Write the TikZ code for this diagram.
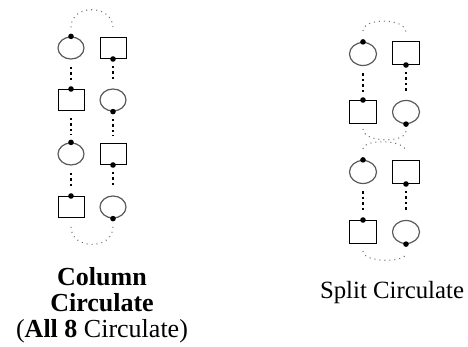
\documentclass[tikz,border=0pt]{standalone}
\usepackage{fontspec}
\setmainfont{Liberation Serif}
\usetikzlibrary{shapes.geometric}
\begin{document}
\begin{tikzpicture}[x=1pt,y=-1pt,
  ring/.style={draw=black!65,line width=1.2pt,ellipse,minimum width=26pt,minimum height=22pt,inner sep=0pt},
  box/.style={draw,line width=1pt,rectangle,minimum width=26pt,minimum height=21pt,inner sep=0pt},
  link/.style={line width=1.3pt,dash pattern=on 2.5pt off 3pt,shorten <=7pt,shorten >=7pt},
  loop/.style={draw=black!55,line width=1.1pt,dash pattern=on 1pt off 4pt},
  label/.style={font=\fontsize{26}{26}\selectfont,align=center,inner sep=0pt}]
\useasboundingbox (0,0) rectangle (468,347);

\coordinate (a1) at (71,48);
\coordinate (a2) at (71,100);
\coordinate (a3) at (71,154);
\coordinate (a4) at (71,207);
\coordinate (b1) at (113,48);
\coordinate (b2) at (113,100);
\coordinate (b3) at (113,154);
\coordinate (b4) at (113,207);

\coordinate (p1) at (363,54);
\coordinate (p2) at (363,112);
\coordinate (p3) at (363,172);
\coordinate (p4) at (363,232);
\coordinate (q1) at (406,53);
\coordinate (q2) at (406,112);
\coordinate (q3) at (406,172);
\coordinate (q4) at (406,232);

% column circulate
\node[ring] (a1) at (a1){};
\node[box] (a2) at (a2){};
\node[ring] (a3) at (a3){};
\node[box] (a4) at (a4){};
\node[box] (b1) at (b1){};
\node[ring] (b2) at (b2){};
\node[box] (b3) at (b3){};
\node[ring] (b4) at (b4){};

\draw[link] (a1)--(a2);
\draw[link] (a2)--(a3);
\draw[link] (a3)--(a4);
\draw[link] (b1)--(b2);
\draw[link] (b2)--(b3);
\draw[link] (b3)--(b4);
\draw[loop,shorten <=9pt,shorten >=9pt] (a1.north) .. controls +(0,-33) and +(0,-33) .. (b1.north);
\draw[loop,shorten <=9pt,shorten >=8pt] (a4.south) .. controls +(0,32) and +(0,32) .. (b4.south);

\fill (a1.north) circle (2.8pt);
\fill (a2.north) circle (2.8pt);
\fill (a3.north) circle (2.8pt);
\fill (a4.north) circle (2.8pt);
\fill (b1.south) circle (2.8pt);
\fill (b2.south) circle (2.8pt);
\fill (b3.south) circle (2.8pt);
\fill (b4.south) circle (2.8pt);

% split circulate
\node[ring,minimum width=27pt,minimum height=23pt] (p1) at (p1){};
\node[box,minimum width=27pt,minimum height=23pt] (p2) at (p2){};
\node[ring,minimum width=27pt,minimum height=23pt] (p3) at (p3){};
\node[box,minimum width=27pt,minimum height=23pt] (p4) at (p4){};
\node[box,minimum width=27pt,minimum height=23pt] (q1) at (q1){};
\node[ring,minimum width=27pt,minimum height=23pt] (q2) at (q2){};
\node[box,minimum width=27pt,minimum height=23pt] (q3) at (q3){};
\node[ring,minimum width=27pt,minimum height=23pt] (q4) at (q4){};

\draw[link] (p1)--(p2);
\draw[link] (p3)--(p4);
\draw[link] (q1)--(q2);
\draw[link] (q3)--(q4);
\draw[loop,shorten <=11pt,shorten >=8pt] (p1.north) .. controls +(0,-24) and +(0,-24) .. (q1.north);
\draw[loop,shorten <=5pt,shorten >=7pt] (p2.south) .. controls +(0,19) and +(0,19) .. (q2.south);
\draw[loop,shorten <=11pt,shorten >=8pt] (p3.north) .. controls +(0,-21) and +(0,-21) .. (q3.north);
\draw[loop,shorten <=7pt,shorten >=9pt] (p4.south) .. controls +(0,19) and +(0,19) .. (q4.south);

\fill (p1.north) circle (2.8pt);
\fill (p2.north) circle (2.8pt);
\fill (p3.north) circle (2.8pt);
\fill (p4.north) circle (2.8pt);
\fill (q1.south) circle (2.8pt);
\fill (q2.south) circle (2.8pt);
\fill (q3.south) circle (2.8pt);
\fill (q4.south) circle (2.8pt);

\node[label,anchor=base] (colname) at (102,337){\textbf{Column}\\\textbf{Circulate}\\(\textbf{All 8} Circulate)};
\node[label,anchor=base,font=\fontsize{24.8}{25}\selectfont] (splitname) at (392,298){Split Circulate};

\end{tikzpicture}
\end{document}
